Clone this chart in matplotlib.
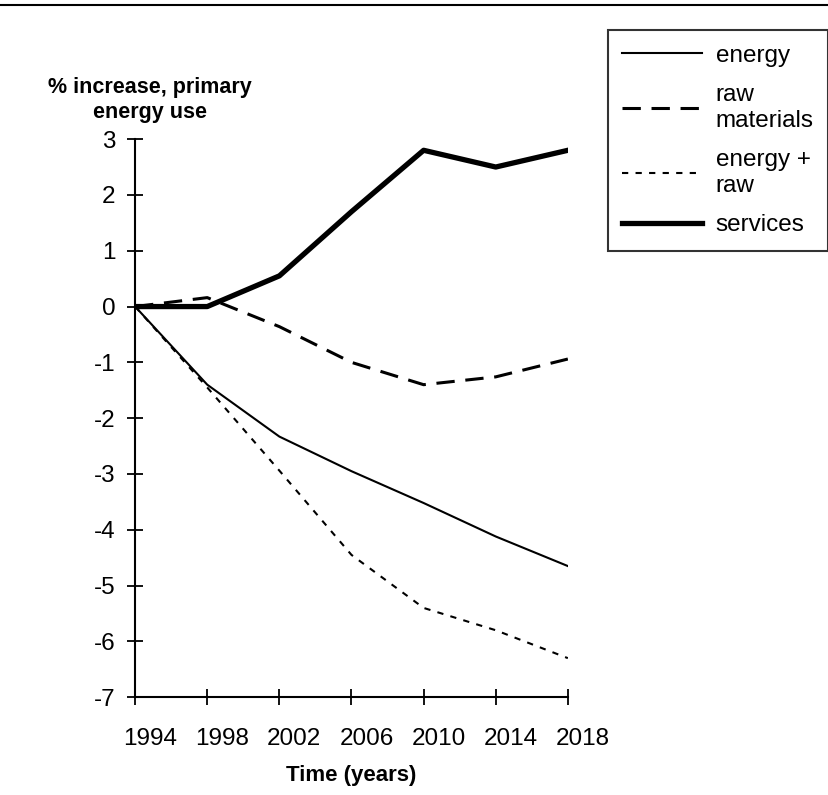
import matplotlib.pyplot as plt
import matplotlib.transforms as mtransforms
from matplotlib.lines import Line2D

# dados
anos = [1994, 1998, 2002, 2006, 2010, 2014, 2018]
energy = [0, -1.4, -2.33, -2.95, -3.52, -4.12, -4.65]
raw_materials = [0, 0.16, -0.36, -1.0, -1.4, -1.26, -0.94]
energy_raw = [0, -1.45, -2.94, -4.45, -5.4, -5.8, -6.3]
services = [0, 0, 0.55, 1.7, 2.8, 2.5, 2.8]
yticks = list(range(-7, 4))

plt.rcParams['font.family'] = ['Liberation Sans', 'DejaVu Sans']
plt.rcParams['axes.unicode_minus'] = False

fig = plt.figure(figsize=(8.29, 7.95), dpi=100)
ax = fig.add_axes([0.163, 0.123, 0.522, 0.702])

ax.plot(anos, energy, color='black', lw=1.5, label='energy')
ax.plot(anos, raw_materials, color='black', lw=2.2, dashes=(6, 3.5), label='raw\nmaterials')
ax.plot(anos, energy_raw, color='black', lw=1.5, dashes=(3, 3.5), label='energy +\nraw')
ax.plot(anos, services, color='black', lw=3.8, label='services')

ax.set_xlim(1994, 2018)
ax.set_ylim(-7, 3)
ax.set_xticks(anos)
ax.set_yticks(yticks)
for s in ['top', 'right']:
    ax.spines[s].set_visible(False)
for s in ['left', 'bottom']:
    ax.spines[s].set_linewidth(1.5)
ax.tick_params(axis='both', direction='inout', length=12, width=1.3, labelsize=17.5)
ax.tick_params(axis='y', pad=8)
ax.tick_params(axis='x', pad=16)

# rotulos do eixo x deslocados para a direita, como no original
desloc = mtransforms.ScaledTranslation(0.15, 0, fig.dpi_scale_trans)
for lab in ax.get_xticklabels():
    lab.set_transform(lab.get_transform() + desloc)

ax.set_xlabel('Time (years)', fontsize=16, fontweight='bold', labelpad=11)
ax.set_ylabel('% increase, primary\nenergy use', fontsize=15.5, fontweight='bold',
              rotation=0, ha='center', va='center', linespacing=1.25)
ax.yaxis.set_label_coords(0.035, 1.07)

leg = ax.legend(loc='upper left', bbox_to_anchor=(0.733, 0.962), bbox_transform=fig.transFigure,
                fontsize=17.5, frameon=True, fancybox=False, edgecolor='black',
                handlelength=3.3, handletextpad=0.55, labelspacing=0.72, borderpad=0.6,
                borderaxespad=0)
leg.get_frame().set_linewidth(1.5)

# linha horizontal no topo
fig.add_artist(Line2D([0, 1], [0.994, 0.994], transform=fig.transFigure, color='black', lw=1.5))

plt.savefig('out.png', dpi=100)
